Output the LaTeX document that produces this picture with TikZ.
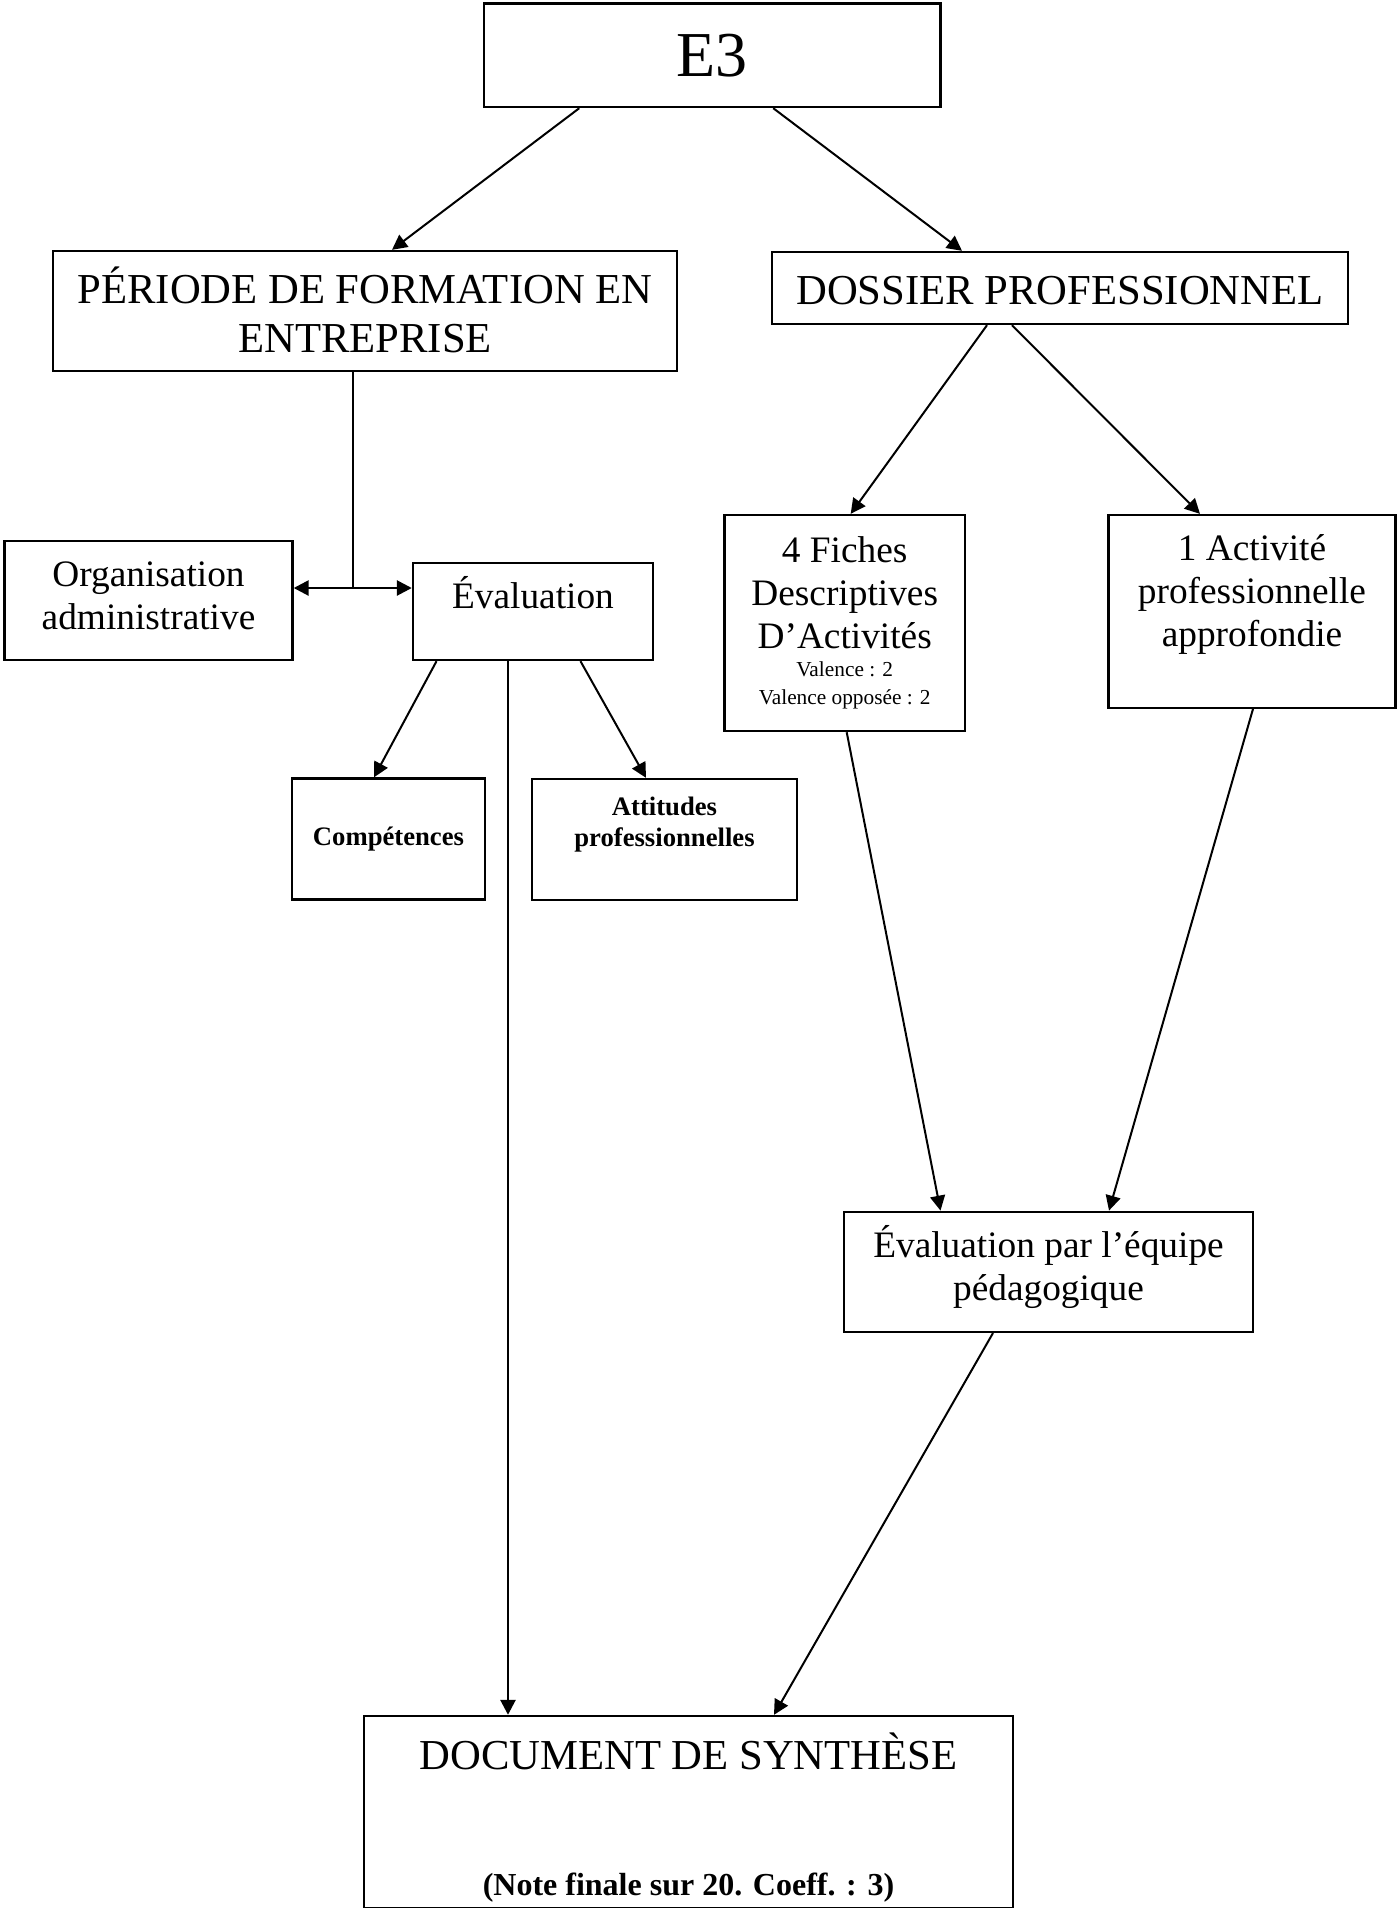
\documentclass[tikz,border=0pt]{standalone}
\usepackage{fontspec}
\setmainfont{Liberation Serif}
\usetikzlibrary{arrows.meta, calc}

\tikzset{
  box/.style={draw, line width=0.9pt, align=center, inner sep=2pt},
  boxsize/.style 2 args={minimum width=#1*0.375pt, minimum height=#2*0.375pt},
  big/.style={font=\fontsize{16}{18.4}\selectfont},
  mid/.style={font=\fontsize{14}{16.1}\selectfont},
  tiny/.style={font=\fontsize{10}{11.9}\selectfont\bfseries},
  >={Triangle[length=5.6pt, width=5.6pt]}
}

\begin{document}
\begin{tikzpicture}[x=0.375pt, y=-0.375pt, line width=0.75pt]
    \useasboundingbox (0, 0) rectangle (1397, 1908);

    \node [box, boxsize={456.5}{103.4}, font=\fontsize{24}{27.6}\selectfont] (e3) at (712.25, 55.3) {E3};

    \node [box, big, boxsize={624}{120}, text depth=1.2pt] (periode) at (365, 311) {PÉRIODE DE FORMATION EN\\ENTREPRISE};
    \node [box, big, boxsize={576}{72}, text height=12.5pt] (dossier) at (1060, 288) {DOSSIER PROFESSIONNEL};

    \node [box, mid, boxsize={288}{119}, text depth=3.6pt] (orga) at (148.5, 600.5) {Organisation\\administrative};
    \node [box, mid, boxsize={240}{97}, text depth=14.5pt] (evalu) at (533, 611.5) {Évaluation};
    \node [box, tiny, boxsize={193}{121}] (comp) at (388.5, 839) {Compétences};
    \node [box, tiny, boxsize={265}{121}, text depth=13.3pt] (attit) at (664.5, 839.5) {Attitudes\\professionnelles};

    \node [box, mid, boxsize={240.6}{216}] (fiches) at (844.7, 623) {4 Fiches\\Descriptives\\D’Activités\\[-5.6pt]{\fontsize{8}{10.5}\selectfont Valence : 2}\\[-5.6pt]{\fontsize{8}{10.5}\selectfont Valence opposée : 2}};
    \node [box, mid, boxsize={287}{192.7}, text depth=15.4pt] (activ) at (1252, 611.4) {1 Activité\\professionnelle\\approfondie};

    \node [box, mid, boxsize={409}{120}, text depth=6.4pt] (equipe) at (1048.5, 1271.8) {Évaluation par l’équipe\\pédagogique};

    \node [box, big, boxsize={649}{189}] (docu) at (688.5, 1812) {\rule{0pt}{18.2pt}DOCUMENT DE SYNTHÈSE\\[28.85pt]{\fontsize{12}{14}\selectfont\bfseries (Note finale sur 20. Coeff. : 3)}};

    % left branch
    \draw [->] ($(e3.south)+(-133, 0)$) -- ($(periode.north)+(27, 0)$);
    \draw [->] ($(e3.south)+(61, 0)$) -- ($(dossier.north)+(-98, 0)$);

    \coordinate (fork) at (352.5, 588);
    \draw (periode.south -| fork) -- (fork);
    \draw [<->, line width=1pt] (orga.east |- fork) -- (evalu.west |- fork);

    \draw [->] ($(evalu.south)+(-96.5, 0)$) -- ($(comp.north)+(-14.5, 0)$);
    \draw [->] ($(evalu.south)+(47.5, 0)$) -- ($(attit.north)+(-18.5, 0)$);
    \coordinate (drop) at ($(evalu.south)+(-25, 0)$);
    \draw [->, line width=1pt] (drop) -- (drop |- docu.north);

    % right branch
    \draw [->] ($(dossier.south)+(-73, 0)$) -- ($(fiches.north)+(6, 0)$);
    \draw [->] ($(dossier.south)+(-48, 0)$) -- ($(activ.north)+(-52, 0)$);
    \draw [->] ($(fiches.south)+(2, 0)$) -- ($(equipe.north)+(-108, 0)$);
    \draw [->] ($(activ.south)+(1, 0)$) -- ($(equipe.north)+(60.5, 0)$);
    \draw [->] ($(equipe.south)+(-55.5, 0)$) -- ($(docu.north)+(85.5, 0)$);
\end{tikzpicture}
\end{document}
